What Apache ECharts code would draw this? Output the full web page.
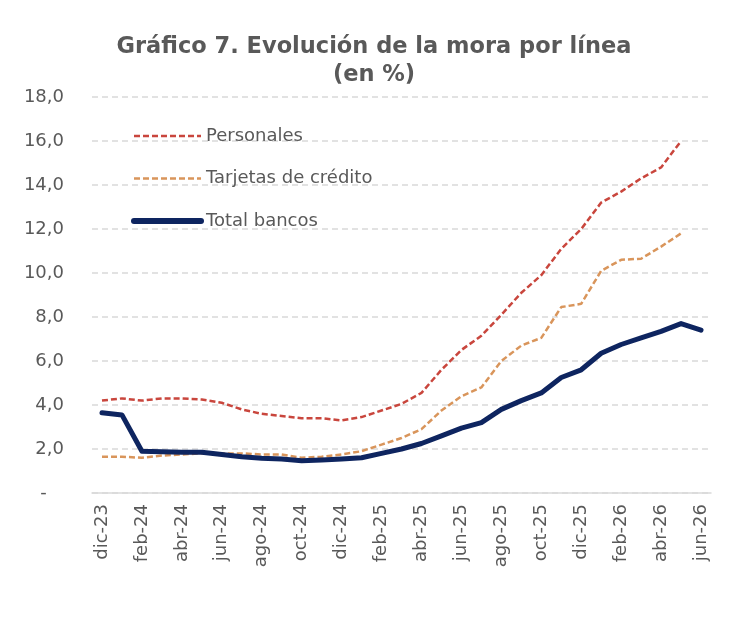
<!DOCTYPE html>
<html>
<head>
<meta charset="utf-8">
<script src="https://cdn.jsdelivr.net/npm/echarts@6/dist/echarts.min.js"></script>
<style>
  html, body { margin: 0; padding: 0; background: #fff; }
  #chart { width: 730px; height: 644px; }
</style>
</head>
<body>
<div id="chart"></div>
<script>
const months = [
  'dic-23', 'ene-24', 'feb-24', 'mar-24', 'abr-24', 'may-24', 'jun-24', 'jul-24',
  'ago-24', 'sep-24', 'oct-24', 'nov-24', 'dic-24', 'ene-25', 'feb-25', 'mar-25',
  'abr-25', 'may-25', 'jun-25', 'jul-25', 'ago-25', 'sep-25', 'oct-25', 'nov-25',
  'dic-25', 'ene-26', 'feb-26', 'mar-26', 'abr-26', 'may-26', 'jun-26',
];

const personales = [
  4.2, 4.3, 4.2, 4.3, 4.3, 4.25, 4.1, 3.8, 3.6, 3.5, 3.4, 3.4, 3.3, 3.45, 3.75, 4.05,
  4.55, 5.6, 6.5, 7.15, 8.1, 9.1, 9.9, 11.1, 12.0, 13.2, 13.7, 14.3, 14.8, 16.0, null,
];

const tarjetas = [
  1.65, 1.65, 1.6, 1.7, 1.75, 1.8, 1.8, 1.8, 1.75, 1.75, 1.6, 1.65, 1.75, 1.9, 2.2, 2.5,
  2.9, 3.75, 4.4, 4.8, 6.0, 6.7, 7.05, 8.45, 8.6, 10.1, 10.6, 10.65, 11.2, 11.8, null,
];

const totalBancos = [
  3.65, 3.55, 1.9, 1.88, 1.85, 1.85, 1.75, 1.65, 1.58, 1.55, 1.47, 1.5, 1.55, 1.6, 1.8, 2.0,
  2.25, 2.6, 2.95, 3.2, 3.8, 4.2, 4.55, 5.25, 5.6, 6.35, 6.75, 7.05, 7.35, 7.7, 7.4,
];

const FONT = 'DejaVu Sans';
const GREY = '#595959';

const chart = echarts.init(document.getElementById('chart'));

chart.setOption({
  backgroundColor: '#fff',
  animation: false,
  textStyle: { fontFamily: FONT },
  title: {
    text: 'Gráfico 7. Evolución de la mora por línea\n(en %)',
    left: 369,
    top: 28,
    textAlign: 'center',
    textStyle: { fontFamily: FONT, fontSize: 22.5, fontWeight: 'bold', color: GREY, lineHeight: 28 },
  },
  legend: {
    orient: 'vertical',
    left: 126,
    top: 122,
    itemWidth: 67,
    itemHeight: 18,
    itemGap: 24.5,
    itemStyle: { opacity: 0 },
    textStyle: { fontFamily: FONT, fontSize: 18, color: GREY },
    data: [
      { name: 'Personales', lineStyle: { width: 2.5, type: [6, 3] } },
      { name: 'Tarjetas de crédito', lineStyle: { width: 2.5, type: [6, 3] } },
      { name: 'Total bancos', lineStyle: { width: 6, cap: 'round' } },
    ],
  },
  grid: { left: 92, right: 19, top: 97, bottom: 151 },
  xAxis: {
    type: 'category',
    data: months,
    boundaryGap: true,
    axisLine: { lineStyle: { color: '#d9d9d9', width: 1.5 } },
    axisTick: { show: false },
    axisLabel: { interval: 1, rotate: 90, margin: 11, fontFamily: FONT, fontSize: 18, color: GREY },
  },
  yAxis: {
    type: 'value',
    min: 0,
    max: 18,
    interval: 2,
    axisLine: { show: false },
    axisTick: { show: false },
    axisLabel: {
      margin: 28,
      fontFamily: FONT,
      fontSize: 18,
      color: GREY,
      formatter: (v) => (v === 0 ? '-   ' : v.toFixed(1).replace('.', ',')),
    },
    splitLine: { lineStyle: { color: '#d9d9d9', type: [6, 4], width: 1.5 } },
  },
  series: [
    {
      name: 'Personales',
      type: 'line',
      data: personales,
      symbol: 'none',
      color: '#c9463d',
      lineStyle: { color: '#c9463d', width: 2.5, type: [6, 3] },
      z: 3,
    },
    {
      name: 'Tarjetas de crédito',
      type: 'line',
      data: tarjetas,
      symbol: 'none',
      color: '#d9955b',
      lineStyle: { color: '#d9955b', width: 2.5, type: [6, 3] },
      z: 2,
    },
    {
      name: 'Total bancos',
      type: 'line',
      data: totalBancos,
      symbol: 'none',
      color: '#0e2560',
      lineStyle: { color: '#0e2560', width: 5, cap: 'round', join: 'round' },
      z: 4,
    },
  ],
});
</script>
</body>
</html>
